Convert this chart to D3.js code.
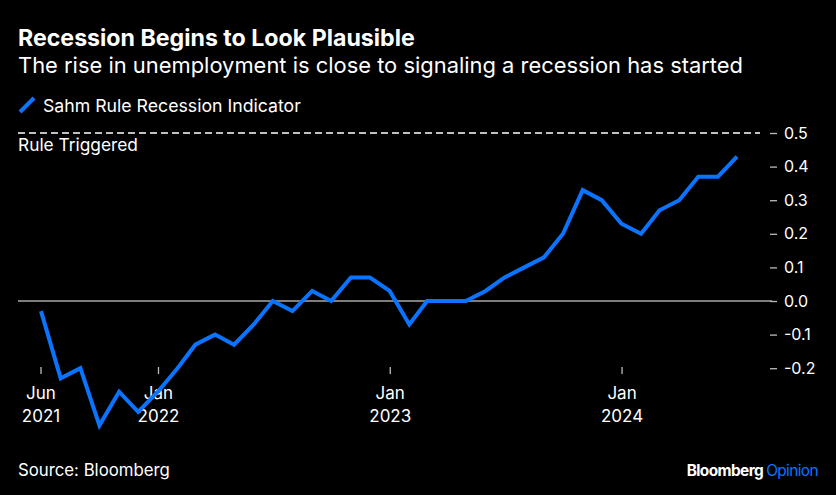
<!DOCTYPE html>
<html>
<head>
<meta charset="utf-8">
<script src="https://cdn.jsdelivr.net/npm/d3@7"></script>
<style>
  html, body { margin: 0; padding: 0; background: #000; }
  svg { display: block; }
  text { font-family: Inter, "Liberation Sans", Arial, sans-serif; fill: #fff; }
</style>
</head>
<body>
<svg id="chart" width="836" height="495"></svg>
<script>
// ---- Data ----
const months = [
  "2021-06","2021-07","2021-08","2021-09","2021-10","2021-11","2021-12",
  "2022-01","2022-02","2022-03","2022-04","2022-05","2022-06","2022-07","2022-08","2022-09","2022-10","2022-11","2022-12",
  "2023-01","2023-02","2023-03","2023-04","2023-05","2023-06","2023-07","2023-08","2023-09","2023-10","2023-11","2023-12",
  "2024-01","2024-02","2024-03","2024-04","2024-05","2024-06"
];
const sahmValues = [
  -0.03, -0.23, -0.20, -0.37, -0.27, -0.33, -0.27,
  -0.20, -0.13, -0.10, -0.13, -0.07, 0.00, -0.03, 0.03, 0.00, 0.07, 0.07, 0.03,
  -0.07, 0.00, 0.00, 0.00, 0.03, 0.07, 0.10, 0.13, 0.20, 0.33, 0.30, 0.23,
  0.20, 0.27, 0.30, 0.37, 0.37, 0.43
];
const yTicks = [0.5, 0.4, 0.3, 0.2, 0.1, 0.0, -0.1, -0.2];
const xTickDates = ["2021-06-30", "2022-01-01", "2023-01-01", "2024-01-01"];
const xTickLabels = [["Jun", "2021"], ["Jan", "2022"], ["Jan", "2023"], ["Jan", "2024"]];
const triggerLevel = 0.5;

const title = "Recession Begins to Look Plausible";
const subtitle = "The rise in unemployment is close to signaling a recession has started";
const seriesName = "Sahm Rule Recession Indicator";
const triggerLabel = "Rule Triggered";
const source = "Source: Bloomberg";

// ---- Setup ----
const svg = d3.select("#chart");
const W = 836, H = 495;
svg.append("rect").attr("width", W).attr("height", H).attr("fill", "#000");

const blue = "#0a74ff";
const parseMonth = d3.timeParse("%Y-%m");
const monthEnd = m => d3.timeDay.offset(d3.timeMonth.offset(parseMonth(m), 1), -1);
const data = months.map((m, i) => ({ date: monthEnd(m), value: sahmValues[i] }));
const parseDay = d3.timeParse("%Y-%m-%d");

const x = d3.scaleTime()
  .domain([data[0].date, data[data.length - 1].date])
  .range([41, 737]);
const y = d3.scaleLinear().domain([-0.2, 0.5]).range([368.2, 133]);

// size a text so that it spans a given width
function fit(sel, width) {
  sel.attr("font-size", 100);
  const w = sel.node().getComputedTextLength();
  sel.attr("font-size", (100 * width / w).toFixed(2));
  return sel;
}

// ---- Titles ----
fit(svg.append("text").attr("x", 18).attr("y", 46)
  .attr("font-weight", "bold").text(title), 397);
fit(svg.append("text").attr("x", 18).attr("y", 73).text(subtitle), 725);

// Legend
svg.append("line").attr("x1", 20).attr("y1", 112).attr("x2", 34).attr("y2", 98)
  .attr("stroke", blue).attr("stroke-width", 4);
fit(svg.append("text").attr("x", 43).attr("y", 111.5).text(seriesName), 258);

// ---- Y axis ticks ----
const yAxis = d3.axisRight(y).tickValues(yTicks).tickSize(7).tickPadding(7)
  .tickFormat(d => d < 0 ? "-" + d3.format(".1f")(-d) : d3.format(".1f")(d));
const gy = svg.append("g").attr("transform", "translate(770,0)").call(yAxis);
gy.select(".domain").remove();
gy.selectAll(".tick line").attr("stroke", "#bbb").attr("stroke-width", 1.3);
gy.selectAll(".tick text").attr("fill", "#fff").attr("font-size", 16)
  .attr("font-family", "Inter, Liberation Sans, Arial, sans-serif");

// Zero line
svg.append("line").attr("x1", 18).attr("x2", 772)
  .attr("y1", y(0)).attr("y2", y(0))
  .attr("stroke", "#a8a8a8").attr("stroke-width", 1.3);

// Trigger dashed line
svg.append("line").attr("x1", 18).attr("x2", 760)
  .attr("y1", y(triggerLevel)).attr("y2", y(triggerLevel))
  .attr("stroke", "#fff").attr("stroke-width", 1.3)
  .attr("stroke-dasharray", "7,4");
fit(svg.append("text").attr("x", 18).attr("y", 151).text(triggerLabel), 120);

// ---- X axis ticks ----
const xTicks = xTickDates.map(parseDay);
const gx = svg.append("g");
xTicks.forEach((d, i) => {
  const xp = x(d);
  gx.append("line").attr("x1", xp).attr("x2", xp).attr("y1", 367).attr("y2", 374)
    .attr("stroke", "#bbb").attr("stroke-width", 1.3);
  gx.append("text").attr("x", xp).attr("y", 399).attr("text-anchor", "middle")
    .attr("font-size", 17).text(xTickLabels[i][0]);
  gx.append("text").attr("x", xp).attr("y", 421.5).attr("text-anchor", "middle")
    .attr("font-size", 17).text(xTickLabels[i][1]);
});

// ---- Line ----
const line = d3.line().x(d => x(d.date)).y(d => y(d.value));
svg.append("path").datum(data).attr("d", line)
  .attr("fill", "none").attr("stroke", blue).attr("stroke-width", 4)
  .attr("stroke-linejoin", "miter").attr("stroke-linecap", "butt");

// ---- Footer ----
fit(svg.append("text").attr("x", 18).attr("y", 476).text(source), 152);
const brand = svg.append("text").attr("x", 818).attr("y", 476)
  .attr("text-anchor", "end").attr("letter-spacing", -0.6);
brand.append("tspan").attr("font-weight", "bold").text("Bloomberg ");
brand.append("tspan").attr("fill", blue).text("Opinion");
fit(brand, 140);
</script>
</body>
</html>
